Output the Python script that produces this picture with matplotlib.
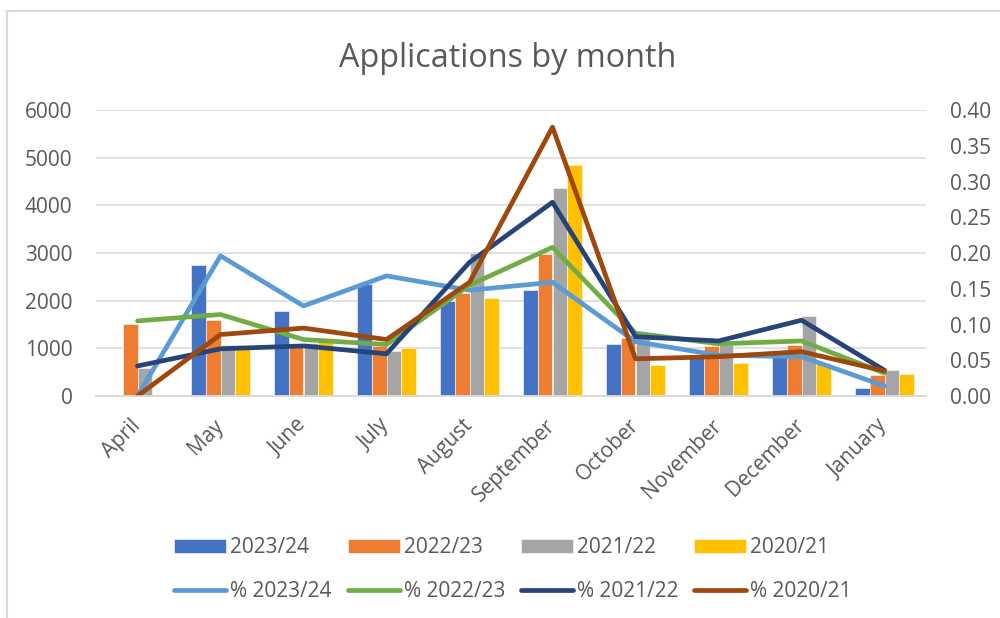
import matplotlib.pyplot as plt
import numpy as np
from matplotlib.lines import Line2D
from matplotlib.ticker import FormatStrFormatter

plt.rcParams["font.family"] = ["Open Sans", "DejaVu Sans"]

TEXT = "#595959"
GRID = "#D9D9D9"

months = ["April", "May", "June", "July", "August", "September",
          "October", "November", "December", "January"]

# applications per month (left axis)
apps_2324 = [0, 2750, 1780, 2350, 2000, 2230, 1090, 820, 820, 175]
apps_2223 = [1520, 1600, 1030, 1050, 2160, 2970, 1220, 1040, 1060, 450]
apps_2122 = [580, 1080, 1120, 950, 3010, 4360, 1350, 1060, 1670, 550]
apps_2021 = [0, 1080, 1210, 1000, 2060, 4840, 650, 690, 700, 460]

# share of the year's applications (right axis)
pct_2324 = [0.0, 0.196, 0.126, 0.168, 0.148, 0.159, 0.076, 0.057, 0.055, 0.014]
pct_2223 = [0.105, 0.114, 0.079, 0.072, 0.155, 0.208, 0.088, 0.073, 0.077, 0.032]
pct_2122 = [0.042, 0.066, 0.070, 0.059, 0.187, 0.271, 0.083, 0.077, 0.106, 0.036]
pct_2021 = [0.0, 0.086, 0.095, 0.079, 0.159, 0.376, 0.052, 0.055, 0.062, 0.035]

bar_series = [
    ("2023/24", apps_2324, "#4472C4"),
    ("2022/23", apps_2223, "#ED7D31"),
    ("2021/22", apps_2122, "#A5A5A5"),
    ("2020/21", apps_2021, "#FFC000"),
]
line_series = [
    ("% 2023/24", pct_2324, "#5B9BD5"),
    ("% 2022/23", pct_2223, "#70AD47"),
    ("% 2021/22", pct_2122, "#264478"),
    ("% 2020/21", pct_2021, "#9E480E"),
]

fig = plt.figure(figsize=(10, 6.18), dpi=100)
ax = fig.add_axes([0.096, 0.3592, 0.83, 0.4628])
ax2 = ax.twinx()

x = np.arange(len(months))
width = 0.18
for i, (name, vals, color) in enumerate(bar_series):
    ax.bar(x + (i - 1.5) * width, vals, width, color=color, label=name,
           edgecolor="white", linewidth=0.4, zorder=2)

for name, vals, color in line_series:
    ax2.plot(x, vals, color=color, lw=3.4, label=name,
             solid_capstyle="round", solid_joinstyle="round")

ax.set_xlim(-0.5, len(months) - 0.5)
ax.set_ylim(0, 6000)
ax.set_yticks(range(0, 6001, 1000))
ax2.set_ylim(0, 0.40)
ax2.set_yticks(np.arange(0, 0.401, 0.05))
ax2.yaxis.set_major_formatter(FormatStrFormatter("%.2f"))

ax.grid(axis="y", color=GRID, lw=1.1, zorder=0)
ax.set_axisbelow(True)
for a in (ax, ax2):
    for side in ("top", "left", "right"):
        a.spines[side].set_visible(False)
    a.spines["bottom"].set_color(GRID)
    a.spines["bottom"].set_linewidth(1.1)

ax.set_xticks(x)
ax.set_xticklabels(months, rotation=45, ha="right", va="center",
                   rotation_mode="anchor")
ax.tick_params(axis="x", length=0, pad=19, labelsize=15, labelcolor=TEXT)
ax.tick_params(axis="y", length=0, pad=17, labelsize=15, labelcolor=TEXT)
ax2.tick_params(axis="y", length=0, pad=17, labelsize=15, labelcolor=TEXT)

fig.text(0.508, 0.906, "Applications by month", ha="center", va="center",
         fontsize=23.3, color=TEXT)

handles = []
labels = []
bh, bl = ax.get_legend_handles_labels()
lh, ll = ax2.get_legend_handles_labels()
for b, l, bn, ln in zip(bh, lh, bl, ll):
    handles += [b, l]
    labels += [bn, ln]
leg = fig.legend(handles, labels, ncol=4, loc="center",
                 bbox_to_anchor=(0.513, 0.078), frameon=False, fontsize=15,
                 handlelength=2.5, handletextpad=0.2, columnspacing=0.75,
                 labelspacing=1.1, labelcolor=TEXT)

# chart area border
fig.add_artist(Line2D([0.007, 0.007], [0, 1 - 11 / 618], color=GRID, lw=1.5))
fig.add_artist(Line2D([0.007, 1], [1 - 11 / 618] * 2, color=GRID, lw=1.5))

fig.savefig("out.png", dpi=100, facecolor="white")
